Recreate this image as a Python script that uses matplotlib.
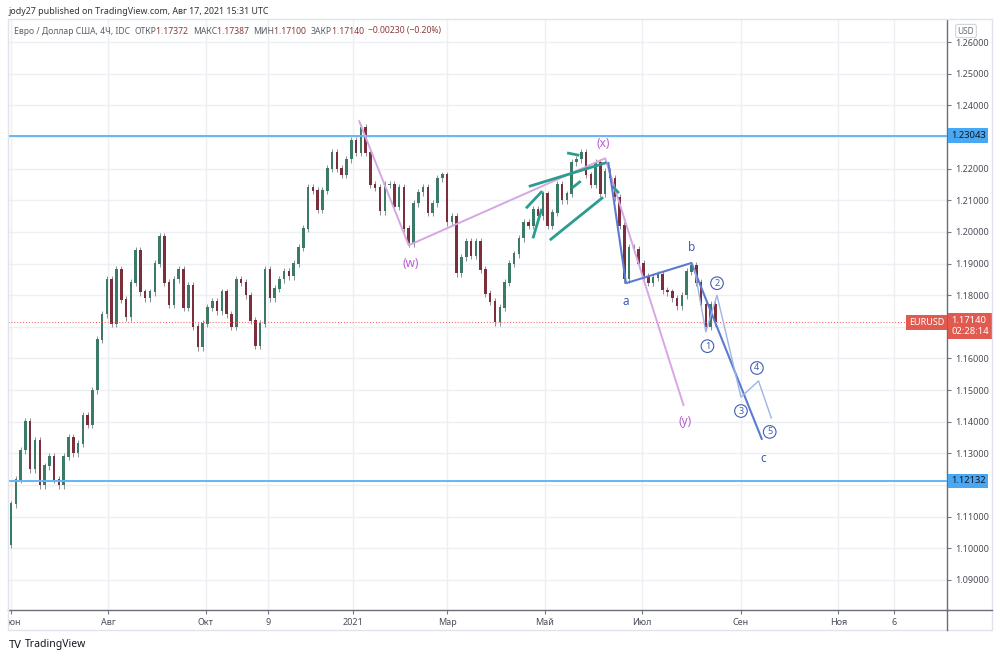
import numpy as np
import pandas as pd
import matplotlib
matplotlib.use('Agg')
import matplotlib.pyplot as plt
import matplotlib.dates as mdates
from matplotlib.patches import Rectangle
from matplotlib.lines import Line2D
from matplotlib.transforms import blended_transform_factory, Bbox, TransformedBbox

plt.rcParams['font.family'] = ['Noto Sans', 'DejaVu Sans']

# EURUSD closes, one every 3 days from 2020-05-29
start_date = '2020-05-29'
first_open = 1.0990
closes = [
    1.1011, 1.1140, 1.1216, 1.1310, 1.1400, 1.1250, 1.1340, 1.1200, 1.1260, 1.1290,
    1.1216, 1.1200, 1.1290, 1.1350, 1.1300, 1.1330, 1.1420, 1.1390, 1.1500, 1.1660,
    1.1740, 1.1850, 1.1710, 1.1880, 1.1785, 1.1730, 1.1840, 1.1940, 1.1810, 1.1790,
    1.1810, 1.1900, 1.1985, 1.1840, 1.1770, 1.1850, 1.1880, 1.1760, 1.1830, 1.1700,
    1.1636, 1.1710, 1.1760, 1.1780, 1.1750, 1.1810, 1.1740, 1.1700, 1.1850, 1.1840,
    1.1800, 1.1720, 1.1640, 1.1710, 1.1880, 1.1790, 1.1820, 1.1850, 1.1875, 1.1860,
    1.1900, 1.1950, 1.2010, 1.2140, 1.2130, 1.2070, 1.2130, 1.2200, 1.2250, 1.2200,
    1.2180, 1.2230, 1.2290, 1.2250, 1.2330, 1.2250, 1.2150, 1.2140, 1.2065, 1.2150,
    1.2150, 1.2080, 1.2140, 1.2010, 1.1965, 1.2090, 1.2125, 1.2140, 1.2060, 1.2090,
    1.2170, 1.2180, 1.2030, 1.2050, 1.1870, 1.1920, 1.1970, 1.1925, 1.1970, 1.1880,
    1.1805, 1.1780, 1.1715, 1.1760, 1.1840, 1.1900, 1.1930, 1.1980, 1.2030, 1.2020,
    1.2070, 1.2050, 1.2120, 1.2020, 1.2060, 1.2150, 1.2100, 1.2120, 1.2220, 1.2230,
    1.2250, 1.2180, 1.2150, 1.2220, 1.2120, 1.2190, 1.2170, 1.2110, 1.2020, 1.1850,
    1.1950, 1.1945, 1.1900, 1.1860, 1.1840, 1.1855, 1.1865, 1.1815, 1.1810, 1.1790,
    1.1765, 1.1800, 1.1875, 1.1895, 1.1840, 1.1770, 1.1700, 1.1770, 1.1714,
]

levels = [1.23043, 1.12132]
last_price = 1.17140

# wave (w)-(x)-(y)
wxy_dates = ['2021-01-05', '2021-02-05', '2021-06-08', '2021-07-27']
wxy_prices = [1.2350, 1.1958, 1.2233, 1.1453]
wxy_labels = ['(w)', '(x)', '(y)']
wxy_label_dates = ['2021-02-06', '2021-06-07', '2021-07-28']
wxy_label_prices = [1.1901, 1.2281, 1.1402]

# a-b-c
abc_dates = ['2021-06-10', '2021-06-21', '2021-08-01', '2021-09-14']
abc_prices = [1.2218, 1.1838, 1.1902, 1.1346]
abc_labels = ['a', 'b', 'c']
abc_label_dates = ['2021-06-21', '2021-08-01', '2021-09-15']
abc_label_prices = [1.1781, 1.1952, 1.1285]

# impulse 1-5 inside c
sub_dates = ['2021-08-03', '2021-08-10', '2021-08-17', '2021-09-01', '2021-09-12', '2021-09-20']
sub_prices = [1.1880, 1.1684, 1.1800, 1.1478, 1.1529, 1.1412]
sub_labels = ['1', '2', '3', '4', '5']
sub_label_dates = ['2021-08-11', '2021-08-17', '2021-09-01', '2021-09-11', '2021-09-19']
sub_label_prices = [1.1639, 1.1838, 1.1434, 1.1570, 1.1368]

# teal trendlines (start date, start price, end date, end price)
teal_start_dates = ['2021-04-22', '2021-05-05', '2021-04-20', '2021-04-24', '2021-05-16', '2021-05-19', '2021-06-13']
teal_start_prices = [1.2145, 1.1977, 1.2078, 1.1984, 1.2249, 1.2142, 1.2142]
teal_end_dates = ['2021-06-08', '2021-06-06', '2021-04-29', '2021-04-29', '2021-05-22', '2021-05-23', '2021-06-16']
teal_end_prices = [1.2218, 1.2107, 1.2126, 1.2069, 1.2243, 1.2158, 1.2126]

tick_dates = ['2020-06-01', '2020-08-01', '2020-10-01', '2020-11-09', '2021-01-01', '2021-03-01',
              '2021-05-01', '2021-07-01', '2021-09-01', '2021-11-01', '2021-12-06']
tick_labels = ['Июн', 'Авг', 'Окт', '9', '2021', 'Мар', 'Май', 'Июл', 'Сен', 'Ноя', '6']
price_ticks = [1.09, 1.10, 1.11, 1.12, 1.13, 1.14, 1.15, 1.16, 1.17, 1.18,
               1.19, 1.20, 1.21, 1.22, 1.23, 1.24, 1.25, 1.26]
hidden_ticks = [1.12, 1.17, 1.23]  # covered by the price boxes

W, H = 1000, 657
fig = plt.figure(figsize=(W / 100, H / 100), dpi=100)
ax = fig.add_axes([8 / W, (H - 610) / H, (947 - 8) / W, (610 - 20) / H])

dates = pd.date_range(start_date, periods=len(closes), freq='3D')
x = mdates.date2num(dates)
c = np.array(closes)
o = np.concatenate([[first_open], c[:-1]])
up = c >= o
top = np.maximum(o, c)
bot = np.minimum(o, c)
wick = 0.0011
ax.vlines(x, bot - wick, top + wick, color='#8c8f99', lw=0.7, zorder=2)
ax.bar(x[up], (top - bot)[up] + 0.0002, bottom=bot[up], width=1.6, color='#3b7a66', zorder=3)
ax.bar(x[~up], (top - bot)[~up] + 0.0002, bottom=bot[~up], width=1.6, color='#7a2f3a', zorder=3)

for lv in levels:
    ax.axhline(lv, color='#64b5f6', lw=1.4, zorder=4)
ax.axhline(last_price, color='#ef5350', lw=0.7, ls=(0, (1, 2)), zorder=4)

d2n = lambda ds: mdates.date2num(pd.to_datetime(ds))

ax.plot(d2n(wxy_dates), wxy_prices, color='#d7a6e4', lw=1.4, zorder=5)
for t, d, p in zip(wxy_labels, wxy_label_dates, wxy_label_prices):
    ax.text(d2n(d), p, t, color='#b55fcf', fontsize=8.5, ha='center', va='center', zorder=6)

for sd, sp, ed, ep in zip(teal_start_dates, teal_start_prices, teal_end_dates, teal_end_prices):
    ax.plot([d2n(sd), d2n(ed)], [sp, ep], color='#2a9d8f', lw=2.0, zorder=5)

ax.plot(d2n(abc_dates), abc_prices, color='#5c7bd0', lw=1.5, zorder=5)
for t, d, p in zip(abc_labels, abc_label_dates, abc_label_prices):
    ax.text(d2n(d), p, t, color='#3f5fb5', fontsize=8.5, ha='center', va='center', zorder=6)

ax.plot(d2n(sub_dates), sub_prices, color='#9fb3e6', lw=1.0, zorder=5)
for t, d, p in zip(sub_labels, sub_label_dates, sub_label_prices):
    ax.text(d2n(d), p, t, color='#3f5fb5', fontsize=6.5, ha='center', va='center', zorder=6,
            bbox=dict(boxstyle='circle,pad=0.2', fc='white', ec='#3f5fb5', lw=0.8))

# axes
jun1 = mdates.date2num(pd.Timestamp('2020-06-01'))
ax.set_xlim(jun1 - 1.9, jun1 + 586)
ax.set_ylim(1.0805, 1.2670)
ax.set_xticks(d2n(tick_dates))
ax.set_xticklabels(tick_labels)
ax.set_yticks(price_ticks)
ax.set_yticklabels(['' if any(abs(p - h) < 1e-9 for h in hidden_ticks) else f'{p:.5f}'
                    for p in price_ticks])
ax.yaxis.tick_right()
ax.tick_params(axis='both', colors='#787b86', labelcolor='#4a4e59', labelsize=6.5, length=3, width=0.8)
ax.tick_params(axis='y', pad=3)
ax.tick_params(axis='x', pad=3)
ax.grid(True, color='#eceff4', lw=1.0, zorder=0)
ax.set_axisbelow(True)
for s in ['left', 'top']:
    ax.spines[s].set_visible(False)
for s in ['right', 'bottom']:
    ax.spines[s].set_color('#6a6d78')
    ax.spines[s].set_linewidth(1.0)

# first month label is clipped by the pane border
fig.canvas.draw()
clip = TransformedBbox(Bbox([[8 / W, 0], [1, 1]]), fig.transFigure)
lbl0 = ax.get_xticklabels()[0]
lbl0.set_clip_on(True)
lbl0.set_clip_box(clip)

# frame of the chart pane
fig.patches.append(Rectangle((8 / W, (H - 630) / H), (992 - 8) / W, (630 - 19) / H,
                             transform=fig.transFigure, fill=False, ec='#e0e3eb', lw=1.0))
fig.lines.append(Line2D([947 / W, 992 / W], [(H - 610) / H] * 2, transform=fig.transFigure,
                        color='#6a6d78', lw=1.0))
fig.lines.append(Line2D([947 / W] * 2, [(H - 630) / H, (H - 610) / H], transform=fig.transFigure,
                        color='#6a6d78', lw=1.0))

# price labels on the right scale
bt = blended_transform_factory(ax.transAxes, ax.transData)
for lv in levels:
    ax.text(1.004, lv, f'{lv:.5f}', transform=bt, ha='left', va='center', fontsize=6.8,
            color='#131722', clip_on=False, zorder=10,
            bbox=dict(boxstyle='square,pad=0.3', fc='#4aa8f3', ec='none'))
ax.annotate(f'{last_price:.5f}\n02:28:14', xy=(1.0, last_price), xycoords=bt,
            xytext=(3, 4.5), textcoords='offset points', ha='left', va='top', fontsize=6.8,
            color='white', fontweight='bold', linespacing=1.25, annotation_clip=False, zorder=10,
            bbox=dict(boxstyle='square,pad=0.3', fc='#e05a4f', ec='none'))
ax.text(0.997, last_price, 'EURUSD', transform=bt, ha='right', va='center', fontsize=6.5,
        color='white', clip_on=False, zorder=10,
        bbox=dict(boxstyle='square,pad=0.3', fc='#e05a4f', ec='none'))
fig.text(966 / W, 1 - 31 / H, 'USD', ha='center', va='center', fontsize=6, color='#6a6d78',
         bbox=dict(boxstyle='round,pad=0.25', fc='white', ec='#d1d4dc', lw=0.8))

# header texts
fig.text(8 / W, 1 - 11 / H, 'jody27 published on TradingView.com, Авг 17, 2021 15:31 UTC',
         fontsize=6.4, color='#333333', va='center')

gray, red = '#5d606b', '#8b3a3a'
pieces = [('Евро / Доллар США, 4Ч, IDC  ', gray), ('ОТКР', gray), ('1.17372  ', red),
          ('МАКС', gray), ('1.17387  ', red), ('МИН', gray), ('1.17100  ', red),
          ('ЗАКР', gray), ('1.17140  ', red), ('−0.00230 (−0.20%)', red)]
r = fig.canvas.get_renderer()
xp = 14
for txt, col in pieces:
    t = fig.text(xp / W, 1 - 31 / H, txt, fontsize=6.2, color=col, va='center')
    xp += t.get_window_extent(renderer=r).width

fig.text(9 / W, 1 - 645 / H, 'TV', fontsize=8, fontweight='heavy', color='#131722', va='center')
fig.text(25 / W, 1 - 645 / H, 'TradingView', fontsize=7.5, color='#131722', va='center')

fig.savefig('out.png', dpi=100)
